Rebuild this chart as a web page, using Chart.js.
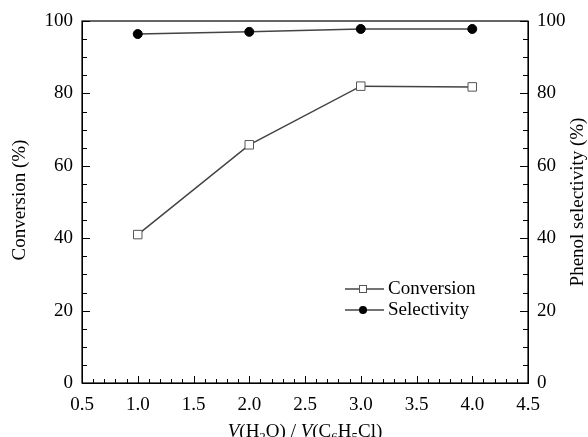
<!DOCTYPE html>
<html>
<head>
<meta charset="utf-8">
<script src="https://cdn.jsdelivr.net/npm/chart.js@4/dist/chart.umd.min.js"></script>
<style>
html,body{margin:0;padding:0;background:#fff;}
#wrap{width:588px;height:437px;position:relative;}
</style>
</head>
<body>
<div id="wrap"><canvas id="c" width="588" height="437"></canvas></div>
<script>
const ratios = [1.0, 2.0, 3.0, 4.0];
const conversion = [41.0, 65.8, 82.0, 81.8];
const selectivity = [96.4, 97.0, 97.8, 97.8];
const xTicks = [0.5, 1.0, 1.5, 2.0, 2.5, 3.0, 3.5, 4.0, 4.5];
const yTicks = [0, 20, 40, 60, 80, 100];
const seriesNames = ['Conversion', 'Selectivity'];

const FONT = '"Liberation Serif", "Times New Roman", serif';
const LINE = '#444';
const TXT = '#000';

const tickPlugin = {
  id: 'inwardTicks',
  afterDraw(chart) {
    const ctx = chart.ctx;
    const a = chart.chartArea;
    const x = chart.scales.x, yl = chart.scales.y, yr = chart.scales.y2;
    ctx.save();
    ctx.strokeStyle = '#000';
    ctx.lineWidth = 1.2;
    ctx.strokeRect(a.left, a.top, a.right - a.left, a.bottom - a.top);
    ctx.lineWidth = 1;
    for (let v = 5; v <= 45; v++) {
      const px = Math.round(x.getPixelForValue(v / 10)) + 0.5;
      const len = (v % 5 === 0) ? 7 : 4;
      ctx.beginPath(); ctx.moveTo(px, a.bottom); ctx.lineTo(px, a.bottom - len); ctx.stroke();
    }
    for (let v = 0; v <= 100; v += 5) {
      const len = (v % 20 === 0) ? 8 : 5;
      const pl = Math.round(yl.getPixelForValue(v)) + 0.5;
      ctx.beginPath(); ctx.moveTo(a.left, pl); ctx.lineTo(a.left + len, pl); ctx.stroke();
      const pr = Math.round(yr.getPixelForValue(v)) + 0.5;
      ctx.beginPath(); ctx.moveTo(a.right, pr); ctx.lineTo(a.right - len, pr); ctx.stroke();
    }
    ctx.restore();

    ctx.save();
    ctx.fillStyle = TXT;
    ctx.font = '19px ' + FONT;
    ctx.textAlign = 'center';
    ctx.textBaseline = 'middle';
    ctx.translate(20, 200);
    ctx.rotate(-Math.PI / 2);
    ctx.fillText('Conversion (%)', 0, 0);
    ctx.restore();

    ctx.save();
    ctx.fillStyle = TXT;
    ctx.font = '19px ' + FONT;
    ctx.textAlign = 'center';
    ctx.textBaseline = 'middle';
    ctx.translate(578, 202);
    ctx.rotate(-Math.PI / 2);
    ctx.fillText('Phenol selectivity (%)', 0, 0);
    ctx.restore();

    const parts = [
      ['V', 'italic', 0], ['(H', '', 0], ['2', '', 1], ['O) / ', '', 0],
      ['V', 'italic', 0], ['(C', '', 0], ['6', '', 1], ['H', '', 0], ['5', '', 1], ['Cl)', '', 0]
    ];
    ctx.save();
    ctx.fillStyle = TXT;
    ctx.textBaseline = 'alphabetic';
    ctx.textAlign = 'left';
    let total = 0;
    const fontOf = p => p[2] ? '13px ' + FONT : (p[1] ? 'italic ' : '') + '19px ' + FONT;
    parts.forEach(p => { ctx.font = fontOf(p); total += ctx.measureText(p[0]).width; });
    let cx = 305 - total / 2;
    const base = 437;
    parts.forEach(p => {
      ctx.font = fontOf(p);
      ctx.fillText(p[0], cx, p[2] ? base + 4 : base);
      cx += ctx.measureText(p[0]).width;
    });
    ctx.restore();

    ctx.save();
    const rows = [
      {y: 289, ds: chart.data.datasets[0]},
      {y: 310, ds: chart.data.datasets[1]}
    ];
    rows.forEach(r => {
      ctx.strokeStyle = LINE; ctx.lineWidth = 1.5;
      ctx.beginPath(); ctx.moveTo(345, r.y); ctx.lineTo(384, r.y); ctx.stroke();
      if (r.ds.pointStyle === 'rect') {
        ctx.fillStyle = '#fff'; ctx.strokeStyle = '#555'; ctx.lineWidth = 1;
        ctx.fillRect(359.5, r.y - 3.5, 7, 7);
        ctx.strokeRect(359.5, r.y - 3.5, 7, 7);
      } else {
        ctx.fillStyle = '#000';
        ctx.beginPath(); ctx.arc(363, r.y, 4, 0, Math.PI * 2); ctx.fill();
      }
      ctx.fillStyle = TXT;
      ctx.font = '19px ' + FONT;
      ctx.textBaseline = 'middle';
      ctx.textAlign = 'left';
      ctx.fillText(r.ds.label, 388, r.y);
    });
    ctx.restore();
  }
};

new Chart(document.getElementById('c'), {
  type: 'line',
  data: {
    datasets: [
      {
        label: seriesNames[0],
        data: ratios.map((r, i) => ({x: r, y: conversion[i]})),
        yAxisID: 'y',
        borderColor: LINE,
        borderWidth: 1.5,
        pointStyle: 'rect',
        pointRadius: 6,
        pointBackgroundColor: '#fff',
        pointBorderColor: '#555',
        pointBorderWidth: 1,
        tension: 0
      },
      {
        label: seriesNames[1],
        data: ratios.map((r, i) => ({x: r, y: selectivity[i]})),
        yAxisID: 'y2',
        borderColor: LINE,
        borderWidth: 1.5,
        pointStyle: 'circle',
        pointRadius: 4.5,
        pointBackgroundColor: '#000',
        pointBorderColor: '#000',
        pointBorderWidth: 1,
        tension: 0
      }
    ]
  },
  options: {
    responsive: false,
    animation: false,
    devicePixelRatio: 1,
    layout: {padding: {top: 21, left: 0, right: 0, bottom: 0}},
    plugins: {legend: {display: false}, tooltip: {enabled: false}},
    scales: {
      x: {
        type: 'linear', min: 0.5, max: 4.5,
        afterBuildTicks: s => { s.ticks = xTicks.map(v => ({value: v})); },
        afterFit: s => { s.height = 54; },
        grid: {display: false, drawTicks: false},
        border: {display: true, color: '#000'},
        ticks: {padding: 11, color: TXT, font: {family: FONT, size: 19}, maxRotation: 0,
                callback: v => Number(v).toFixed(1)}
      },
      y: {
        position: 'left', min: 0, max: 100,
        afterBuildTicks: s => { s.ticks = yTicks.map(v => ({value: v})); },
        afterFit: s => { s.width = 82; },
        grid: {display: false, drawTicks: false},
        border: {display: true, color: '#000'},
        ticks: {padding: 9, color: TXT, font: {family: FONT, size: 19}}
      },
      y2: {
        position: 'right', min: 0, max: 100,
        afterBuildTicks: s => { s.ticks = yTicks.map(v => ({value: v})); },
        afterFit: s => { s.width = 60; },
        grid: {display: false, drawTicks: false},
        border: {display: true, color: '#000'},
        ticks: {padding: 9, color: TXT, font: {family: FONT, size: 19}}
      }
    }
  },
  plugins: [tickPlugin]
});
</script>
</body>
</html>
